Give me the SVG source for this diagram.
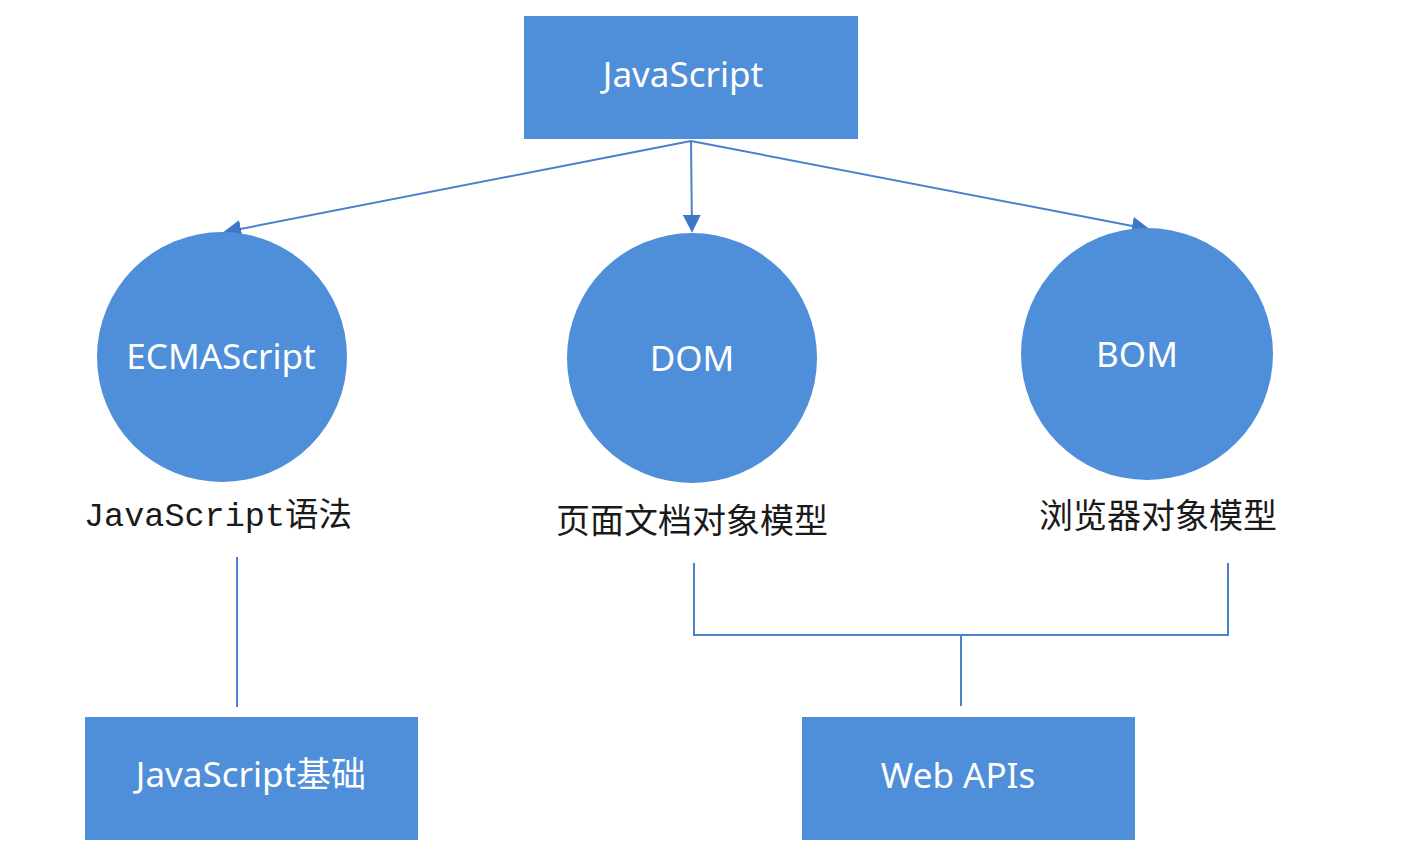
<svg xmlns="http://www.w3.org/2000/svg" width="1410" height="862" viewBox="0 0 1410 862">
<style>
.box{fill:#4f8ed8;}
.w{fill:#ffffff;font-family:"Noto Sans","Noto Sans CJK SC",sans-serif;font-size:35px;text-anchor:middle;}
.k{fill:#1a1a1a;font-family:"Noto Sans CJK SC","Noto Sans",sans-serif;font-size:34px;text-anchor:middle;}
.m{fill:#1a1a1a;font-family:"Liberation Mono","Noto Sans CJK SC",monospace;font-size:33.5px;}
.ln{stroke:#4a80cc;stroke-width:2;fill:none;}
</style>
<defs>
<marker id="ah2" viewBox="0 0 10 10" refX="9" refY="5" markerWidth="18" markerHeight="18" markerUnits="userSpaceOnUse" orient="auto">
<path d="M0,0 L10,5 L0,10 Z" fill="#3f77c8"/>
</marker>
</defs>
<rect width="1410" height="862" fill="#ffffff"/>
<g id="connectors">
<line class="ln" x1="691" y1="141" x2="225" y2="232" marker-end="url(#ah2)"/>
<line class="ln" x1="691" y1="141" x2="692" y2="231" marker-end="url(#ah2)"/>
<line class="ln" x1="691" y1="141" x2="1148" y2="229" marker-end="url(#ah2)"/>
<line class="ln" x1="237" y1="557" x2="237" y2="707"/>
<polyline class="ln" points="694,563 694,635 1228,635 1228,563"/>
<line class="ln" x1="961" y1="635" x2="961" y2="706"/>
</g>
<g id="javascript">
<rect class="box" x="524" y="16" width="334" height="123"/>
<text class="w" x="683" y="87">JavaScript</text>
</g>
<g id="ecmascript">
<circle class="box" cx="222" cy="357" r="125"/>
<text class="w" x="221" y="369">ECMAScript</text>
<text class="m" x="84" y="526">JavaScript语法</text>
</g>
<g id="dom">
<circle class="box" cx="692" cy="358" r="125"/>
<text class="w" x="692" y="371">DOM</text>
<text class="k" x="692" y="533">页面文档对象模型</text>
</g>
<g id="bom">
<circle class="box" cx="1147" cy="354" r="126"/>
<text class="w" x="1137" y="367">BOM</text>
<text class="k" x="1158" y="528">浏览器对象模型</text>
</g>
<g id="js-basics">
<rect class="box" x="85" y="717" width="333" height="123"/>
<text class="w" x="251" y="787">JavaScript基础</text>
</g>
<g id="web-apis">
<rect class="box" x="802" y="717" width="333" height="123"/>
<text class="w" x="958" y="788">Web APIs</text>
</g>
</svg>
